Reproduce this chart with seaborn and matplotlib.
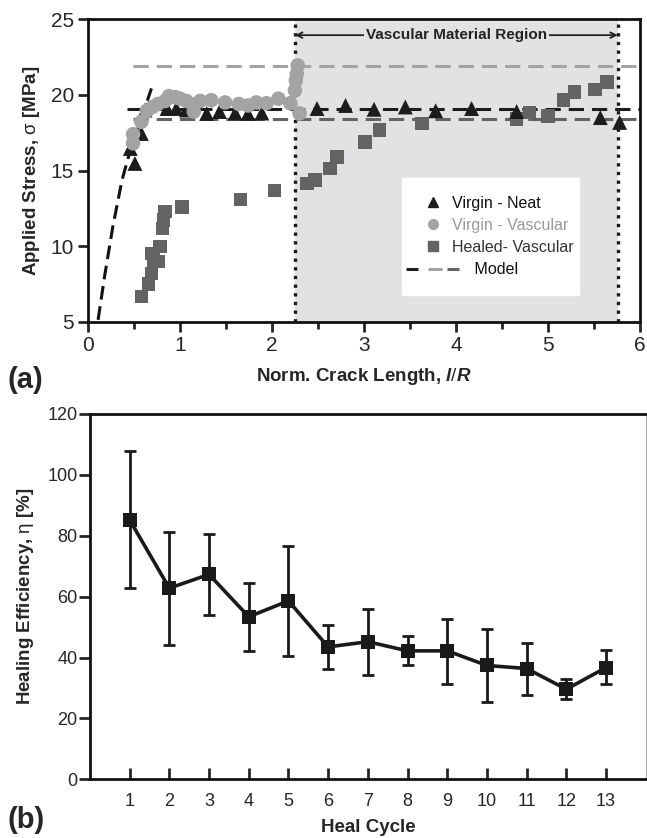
import numpy as np
import pandas as pd
import matplotlib
matplotlib.use("Agg")
import matplotlib.pyplot as plt
import seaborn as sns
from matplotlib.lines import Line2D
from matplotlib.legend_handler import HandlerBase
from matplotlib.ticker import MultipleLocator

# ---------------- data: panel (a) ----------------
neat_x = [0.46, 0.51, 0.58, 0.62, 0.86, 0.96, 1.07, 1.29, 1.43, 1.60, 1.74, 1.89,
          2.49, 2.80, 3.11, 3.45, 3.78, 4.17, 4.66, 5.57, 5.78]
neat_y = [16.46, 15.47, 17.45, 19.0, 19.1, 19.1, 19.0, 18.77, 18.9, 18.8, 18.77, 18.8,
          19.1, 19.3, 19.05, 19.2, 18.95, 19.1, 18.9, 18.5, 18.18]

vasc_x = [0.49, 0.49, 0.58, 0.64, 0.70, 0.76, 0.84, 0.88, 0.95, 1.00, 1.07, 1.15, 1.15,
          1.22, 1.34, 1.49, 1.64, 1.74, 1.83, 1.94, 2.07, 2.20, 2.25, 2.26, 2.27, 2.28, 2.30]
vasc_y = [16.8, 17.4, 18.22, 18.95, 19.2, 19.4, 19.6, 19.92, 19.85, 19.75, 19.6, 19.35, 18.9,
          19.6, 19.65, 19.5, 19.4, 19.3, 19.5, 19.45, 19.75, 19.45, 20.3, 20.95, 21.4, 21.95, 18.78]

healed_x = [0.58, 0.66, 0.69, 0.71, 0.69, 0.76, 0.78, 0.81, 0.82, 0.84, 1.02, 1.66, 2.03,
            2.38, 2.47, 2.63, 2.71, 3.01, 3.17, 3.63, 4.66, 4.80, 5.00, 5.17, 5.29, 5.51, 5.64]
healed_y = [6.67, 7.5, 8.2, 9.1, 9.53, 9.0, 9.97, 11.18, 11.73, 12.28, 12.6, 13.1, 13.67,
            14.15, 14.38, 15.14, 15.9, 16.9, 17.67, 18.11, 18.4, 18.84, 18.6, 19.65, 20.2, 20.36, 20.86]

model_curve_x = [0.11, 0.18, 0.27, 0.37, 0.46, 0.55, 0.69]
model_curve_y = [5.13, 7.99, 11.29, 14.37, 16.35, 17.9, 20.43]

model_levels = [21.9, 19.05, 18.4]          # light gray, black, dark gray
model_starts = [0.49, 0.42, 0.49]
region = [2.25, 5.76]

# ---------------- data: panel (b) ----------------
cycles = list(range(1, 14))
eff = [85.2, 62.8, 67.3, 53.4, 58.6, 43.5, 45.2, 42.2, 42.2, 37.4, 36.4, 29.6, 36.7]
eff_hi = [107.9, 81.3, 80.6, 64.6, 76.6, 50.8, 56.0, 47.0, 52.8, 49.5, 44.9, 32.9, 42.6]
eff_lo = [62.8, 44.1, 53.9, 42.1, 40.5, 36.1, 34.4, 37.5, 31.2, 25.4, 27.8, 26.5, 31.2]

# ---------------- style ----------------
sns.set_style("ticks")
plt.rcParams['font.family'] = ['Liberation Sans', 'DejaVu Sans']
plt.rcParams['mathtext.fontset'] = 'custom'
plt.rcParams['mathtext.rm'] = 'Liberation Sans'
plt.rcParams['mathtext.it'] = 'Liberation Sans:italic:bold'
plt.rcParams['mathtext.bf'] = 'Liberation Sans:bold'

C_NEAT = '#1c1c1c'
C_VASC = '#a3a3a3'
C_HEAL = '#636363'
C_SHADE = '#e1e2e4'


class HandlerModel(HandlerBase):
    """Three short coloured dashes: black, light gray, dark gray."""
    def create_artists(self, legend, orig_handle, xdescent, ydescent, width,
                       height, fontsize, trans):
        y = height / 2.0 - ydescent
        x0 = -xdescent
        segs = [(-0.51, -0.06, '#1c1c1c'), (0.31, 0.84, C_VASC), (1.03, 1.51, C_HEAL)]
        arts = []
        for a, b, c in segs:
            ln = Line2D([x0 + a * width, x0 + b * width], [y, y], color=c, lw=2.2,
                        solid_capstyle='butt', transform=trans)
            arts.append(ln)
        return arts


fig = plt.figure(figsize=(6.47, 8.38), dpi=100)
ax1 = fig.add_axes([0.136, 0.616, 0.853, 0.361])
ax2 = fig.add_axes([0.139, 0.070, 0.859, 0.436])

# ----- panel (a) -----
ax1.axvspan(region[0], region[1], color=C_SHADE, zorder=0, lw=0)
for xv in region:
    ax1.axvline(xv, color='#1a1a1a', ls=(0, (1, 1.6)), lw=2.4, zorder=1)

df_curve = pd.DataFrame({'x': model_curve_x, 'y': model_curve_y})
sns.lineplot(data=df_curve, x='x', y='y', ax=ax1, color='#111111', lw=2.2,
             dashes=False, sort=False, estimator=None, zorder=2)
ax1.lines[-1].set_linestyle((0, (4.5, 2.2)))

lvl_colors = [C_VASC, '#1c1c1c', C_HEAL]
for lvl, x0, c in zip(model_levels, model_starts, lvl_colors):
    ax1.plot([x0, 6], [lvl, lvl], color=c, lw=2.2, ls=(0, (5, 2.6)), zorder=2)

df_h = pd.DataFrame({'x': healed_x, 'y': healed_y})
df_v = pd.DataFrame({'x': vasc_x, 'y': vasc_y})
df_n = pd.DataFrame({'x': neat_x, 'y': neat_y})
sns.scatterplot(data=df_h, x='x', y='y', ax=ax1, marker='s', s=95, color=C_HEAL,
                edgecolor='none', zorder=3)
sns.scatterplot(data=df_n, x='x', y='y', ax=ax1, marker='^', s=115, color=C_NEAT,
                edgecolor='none', zorder=4)
sns.scatterplot(data=df_v, x='x', y='y', ax=ax1, marker='o', s=110, color=C_VASC,
                edgecolor='none', zorder=5)

ax1.set_xlim(0, 6)
ax1.set_ylim(5, 25)
ax1.xaxis.set_major_locator(MultipleLocator(1))
ax1.xaxis.set_minor_locator(MultipleLocator(0.5))
ax1.yaxis.set_major_locator(MultipleLocator(5))
ax1.tick_params(axis='both', which='major', direction='out', length=7, width=2,
                labelsize=15, pad=3)
ax1.tick_params(axis='x', which='minor', direction='out', length=5, width=2)
for sp in ax1.spines.values():
    sp.set_linewidth(2)
    sp.set_color('#111111')
ax1.set_xlabel(r"Norm. Crack Length, $\mathit{l/R}$", fontsize=13.5,
               fontweight='bold', labelpad=8)
ax1.set_ylabel(r"Applied Stress, $\mathrm{\sigma}$ [MPa]", fontsize=13.5,
               fontweight='bold', labelpad=6)

# region annotation
ax1.annotate('', xy=(region[0], 23.95), xytext=(region[1], 23.95),
             arrowprops=dict(arrowstyle='<->', color='#222222', lw=1.3,
                             shrinkA=0, shrinkB=0, mutation_scale=10))
ax1.text(sum(region) / 2, 23.95, 'Vascular Material Region', ha='center', va='center',
         fontsize=11, fontweight='bold', color='#222222',
         bbox=dict(facecolor=C_SHADE, edgecolor='none', pad=1.5))

# legend
h_neat = Line2D([], [], marker='^', color=C_NEAT, ls='none', markersize=7)
h_vasc = Line2D([], [], marker='o', color=C_VASC, ls='none', markersize=7)
h_heal = Line2D([], [], marker='s', color=C_HEAL, ls='none', markersize=6.5)
h_model = Line2D([], [], color='#1c1c1c')
leg = ax1.legend([h_neat, h_vasc, h_heal, h_model],
                 ['Virgin - Neat', 'Virgin - Vascular', 'Healed- Vascular', '     Model'],
                 handler_map={h_model: HandlerModel()},
                 loc='upper left', bbox_to_anchor=(0.569, 0.475, 0.32, 0.0),
                 mode='expand', frameon=True, fancybox=False, framealpha=1,
                 edgecolor='white', facecolor='white', fontsize=11.5,
                 handlelength=1.65, handletextpad=0.36, labelspacing=0.45,
                 borderpad=1.1, borderaxespad=0)
for txt, col in zip(leg.get_texts(), ['#111111', '#9a9a9a', '#333333', '#111111']):
    txt.set_color(col)

# ----- panel (b) -----
df_b = pd.DataFrame({'cycle': cycles, 'eff': eff})
err = [np.array(eff) - np.array(eff_lo), np.array(eff_hi) - np.array(eff)]
ax2.errorbar(cycles, eff, yerr=err, fmt='none', ecolor='#1a1a1a', elinewidth=2,
             capsize=4, capthick=2, zorder=2)
sns.lineplot(data=df_b, x='cycle', y='eff', ax=ax2, color='#1a1a1a', lw=2.6,
             marker='s', markersize=10, markeredgewidth=0, zorder=3)

ax2.set_xlim(0, 14)
ax2.set_ylim(0, 120)
ax2.set_xticks(cycles)
ax2.yaxis.set_major_locator(MultipleLocator(20))
ax2.tick_params(axis='x', direction='in', length=8, width=2, labelsize=13, pad=10)
ax2.tick_params(axis='y', direction='out', length=8, width=2, labelsize=13, pad=1)
for name, sp in ax2.spines.items():
    sp.set_linewidth(2)
    sp.set_color('#111111')
ax2.spines['right'].set_linewidth(0.8)
ax2.spines['right'].set_color('#aaaaaa')
ax2.set_xlabel('Heal Cycle', fontsize=13.5, fontweight='bold', labelpad=6)
ax2.set_ylabel(r"Healing Efficiency, $\mathrm{\eta}$ [%]", fontsize=13.5,
               fontweight='bold', labelpad=8)

fig.text(0.012, 0.547, '(a)', fontsize=21, fontweight='bold', va='center', ha='left')
fig.text(0.012, 0.021, '(b)', fontsize=21, fontweight='bold', va='center', ha='left')

fig.savefig('out.png', dpi=100)
